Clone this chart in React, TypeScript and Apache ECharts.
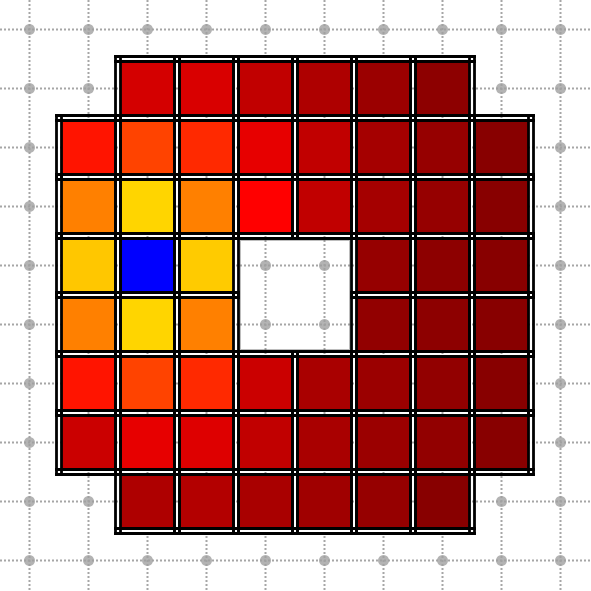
import React, { useEffect, useRef } from "react";
import * as echarts from "echarts";

// grid positions (0..9 on both axes)
const gridTicks = [0, 1, 2, 3, 4, 5, 6, 7, 8, 9];

// cell values per row (null = no cell), columns 0..9
const rowValues1 = [null, null, 84, 83, 88, 92, 96, 99, null, null];
const rowValues2 = [null, 71, 62, 67, 80, 88, 94, 97, 100, null];
const rowValues3 = [null, 50, 25, 50, 75, 88, 94, 97, 100, null];
const rowValues4 = [null, 29, 0, 28, null, null, 97, 99, 100, null];
const rowValues5 = [null, 50, 25, 50, null, null, 98, 99, 100, null];
const rowValues6 = [null, 71, 62, 67, 86, 93, 96, 98, 100, null];
const rowValues7 = [null, 86, 80, 82, 88, 93, 96, 98, 100, null];
const rowValues8 = [null, null, 92, 91, 93, 95, 97, 100, null, null];

const rows: { row: number; values: (number | null)[] }[] = [
  { row: 1, values: rowValues1 },
  { row: 2, values: rowValues2 },
  { row: 3, values: rowValues3 },
  { row: 4, values: rowValues4 },
  { row: 5, values: rowValues5 },
  { row: 6, values: rowValues6 },
  { row: 7, values: rowValues7 },
  { row: 8, values: rowValues8 },
];

// hole region: [colFrom, colTo, rowFrom, rowTo]
const holeRegion = [4, 5, 4, 5];

const colorStops = ["#0000ff", "#ffd500", "#ff8000", "#ff0000", "#880000"];

export default function App() {
  const ref = useRef<HTMLDivElement>(null);

  useEffect(() => {
    if (!ref.current) return;
    const chart = echarts.init(ref.current, undefined, { renderer: "svg" });

    const cellData: number[][] = [];
    rows.forEach((r) => {
      r.values.forEach((v, c) => {
        if (v !== null && v !== undefined) cellData.push([c, r.row, v]);
      });
    });

    const dotData: number[][] = [];
    gridTicks.forEach((x) => gridTicks.forEach((y) => dotData.push([x, y])));

    const D = 2.5;
    const LW = 2.8;

    const option: any = {
      animation: false,
      backgroundColor: "#ffffff",
      grid: { left: 0, top: 0, width: 590, height: 590 },
      xAxis: { type: "value", min: -0.5, max: 9.5, show: false },
      yAxis: { type: "value", min: -0.5, max: 9.5, inverse: true, show: false },
      visualMap: {
        show: false,
        type: "continuous",
        min: 0,
        max: 100,
        dimension: 2,
        seriesIndex: 3,
        inRange: { color: colorStops },
      },
      series: [
        {
          type: "custom",
          name: "hole",
          z: 5,
          silent: true,
          data: [holeRegion],
          encode: { x: 0, y: 2 },
          renderItem: (params: any, api: any) => {
            const c0 = api.value(0), c1 = api.value(1), r0 = api.value(2), r1 = api.value(3);
            const p0 = api.coord([c0 - 0.5, r0 - 0.5]);
            const p1 = api.coord([c1 + 0.5, r1 + 0.5]);
            const inset = D + LW / 2 + 0.5;
            const x0 = p0[0] + inset, y0 = p0[1] + inset, x1 = p1[0] - inset, y1 = p1[1] - inset;
            const style = { stroke: "rgba(90,90,90,0.45)", lineWidth: 1 };
            return {
              type: "group",
              children: [
                { type: "line", shape: { x1: x0, y1: y0, x2: x1, y2: y0 }, style },
                { type: "line", shape: { x1: x1, y1: y0, x2: x1, y2: y1 }, style },
                { type: "line", shape: { x1: x1, y1: y1, x2: x0, y2: y1 }, style },
                { type: "line", shape: { x1: x0, y1: y1, x2: x0, y2: y0 }, style },
              ],
            };
          },
        },
        {
          type: "custom",
          name: "gridlines",
          z: 1,
          silent: true,
          data: gridTicks.map((t) => [t, t]),
          encode: { x: 0, y: 1 },
          renderItem: (params: any, api: any) => {
            const cs = params.coordSys;
            const p = api.coord([api.value(0), api.value(1)]);
            const style = { stroke: "#a6a6a6", lineWidth: 2, lineDash: [2, 2] };
            return {
              type: "group",
              children: [
                { type: "line", shape: { x1: p[0], y1: cs.y, x2: p[0], y2: cs.y + cs.height + 1 }, style },
                { type: "line", shape: { x1: cs.x, y1: p[1], x2: cs.x + cs.width + 1, y2: p[1] }, style },
              ],
            };
          },
        },
        {
          type: "scatter",
          name: "dots",
          z: 2,
          silent: true,
          symbol: "circle",
          symbolSize: 11,
          itemStyle: { color: "#a0a0a0" },
          data: dotData,
        },
        {
          type: "custom",
          name: "cells",
          z: 3,
          silent: true,
          data: cellData,
          encode: { x: 0, y: 1 },
          renderItem: (params: any, api: any) => {
            const p0 = api.coord([api.value(0) - 0.5, api.value(1) - 0.5]);
            const p1 = api.coord([api.value(0) + 0.5, api.value(1) + 0.5]);
            return {
              type: "rect",
              shape: { x: p0[0] + D, y: p0[1] + D, width: p1[0] - p0[0] - 2 * D, height: p1[1] - p0[1] - 2 * D },
              style: { fill: api.visual("color") },
            };
          },
        },
        {
          type: "custom",
          name: "borders",
          z: 4,
          silent: true,
          data: cellData,
          encode: { x: 0, y: 1 },
          renderItem: (params: any, api: any) => {
            const p0 = api.coord([api.value(0) - 0.5, api.value(1) - 0.5]);
            const p1 = api.coord([api.value(0) + 0.5, api.value(1) + 0.5]);
            const ext = D + LW / 2;
            const style = { stroke: "#000000", lineWidth: LW };
            const xs = [p0[0] - D, p0[0] + D, p1[0] - D, p1[0] + D];
            const ys = [p0[1] - D, p0[1] + D, p1[1] - D, p1[1] + D];
            const children: any[] = [];
            xs.forEach((x) =>
              children.push({ type: "line", shape: { x1: x, y1: p0[1] - ext, x2: x, y2: p1[1] + ext }, style })
            );
            ys.forEach((y) =>
              children.push({ type: "line", shape: { x1: p0[0] - ext, y1: y, x2: p1[0] + ext, y2: y }, style })
            );
            return { type: "group", children };
          },
        },
      ],
    };

    chart.setOption(option);
    return () => chart.dispose();
  }, []);

  return (
    <div
      ref={ref}
      style={{ position: "absolute", left: 0, top: 0, width: 591, height: 591, background: "#fff" }}
    />
  );
}
